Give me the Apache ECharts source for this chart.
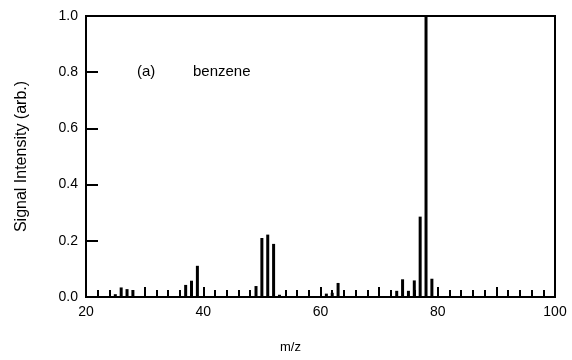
<!DOCTYPE html>
<html>
<head>
<meta charset="utf-8">
<script src="https://cdn.jsdelivr.net/npm/echarts@6/dist/echarts.min.js"></script>
<style>
  html, body { margin: 0; padding: 0; background: #fff; }
  #massChart { width: 572px; height: 360px; }
</style>
</head>
<body>
<div id="massChart"></div>
<script>
// benzene mass spectrum
const mzList = [25, 26, 27, 28, 37, 38, 39, 49, 50, 51, 52, 53, 61, 62, 63, 73, 74, 75, 76, 77, 78, 79]
const intensityList = [0.01, 0.034, 0.028, 0.025, 0.043, 0.058, 0.111, 0.039, 0.21, 0.222, 0.189, 0.008,
  0.012, 0.015, 0.05, 0.022, 0.063, 0.022, 0.059, 0.286, 1.0, 0.065]
const xTicks = [20, 40, 60, 80, 100]
const yTicks = [0, 0.2, 0.4, 0.6, 0.8, 1.0]

const font = 'Liberation Sans, Arial, sans-serif'
const chart = echarts.init(document.getElementById('massChart'))

const option = {
  animation: false,
  grid: {
    left: 86,
    right: 17,
    top: 16,
    bottom: 63,
    show: true,
    borderColor: '#000',
    borderWidth: 2
  },
  graphic: [
    { type: 'text', left: 137, top: 64, style: { text: '(a)', fontSize: 15, fontFamily: font, fill: '#000' } },
    { type: 'text', left: 193, top: 64, style: { text: 'benzene', fontSize: 15, fontFamily: font, fill: '#000' } }
  ],
  xAxis: {
    type: 'value',
    min: 20,
    max: 100,
    interval: 10,
    name: 'm/z',
    nameLocation: 'middle',
    nameGap: 44,
    nameTextStyle: { fontSize: 13, fontFamily: font, color: '#000', padding: [0, 60, 0, 0] },
    axisLine: { lineStyle: { color: '#000', width: 2 } },
    axisTick: { inside: true, length: 10, lineStyle: { color: '#000', width: 2 } },
    minorTick: { show: true, splitNumber: 5, length: 7, lineStyle: { color: '#000', width: 2 } },
    splitLine: { show: false },
    axisLabel: {
      margin: 8,
      fontSize: 14,
      fontFamily: font,
      color: '#000',
      formatter (v) {
        return xTicks.indexOf(v) > -1 ? String(v) : ''
      }
    }
  },
  yAxis: {
    type: 'value',
    min: 0,
    max: 1,
    interval: 0.2,
    name: 'Signal Intensity (arb.)',
    nameLocation: 'middle',
    nameGap: 56,
    nameTextStyle: { fontSize: 16, fontFamily: font, color: '#000' },
    axisLine: { show: true, lineStyle: { color: '#000', width: 2 } },
    axisTick: { show: true, inside: true, length: 12, lineStyle: { color: '#000', width: 2 } },
    splitLine: { show: false },
    axisLabel: {
      margin: 8,
      fontSize: 14,
      fontFamily: font,
      color: '#000',
      formatter (v) {
        return yTicks.some(t => Math.abs(t - v) < 1e-6) ? v.toFixed(1) : ''
      }
    }
  },
  series: [
    {
      name: 'benzene',
      type: 'bar',
      barWidth: 3,
      silent: true,
      itemStyle: { color: '#000' },
      data: mzList.map((mz, i) => [mz, intensityList[i]])
    }
  ]
}

chart.setOption(option, true)
</script>
</body>
</html>
